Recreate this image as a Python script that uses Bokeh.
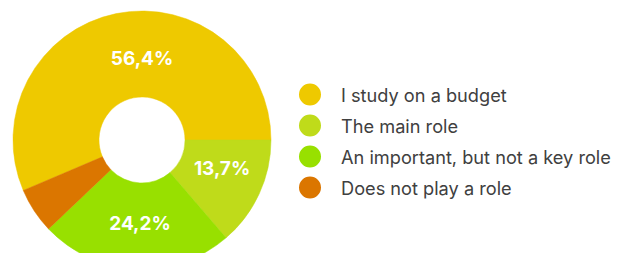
import numpy as np
from bokeh.plotting import figure
from bokeh.models import Range1d, ColumnDataSource
from bokeh.core.properties import value
from bokeh.embed import file_html
from bokeh.resources import INLINE

# ---- data ----
categories = ["I study on a budget", "The main role",
              "An important, but not a key role", "Does not play a role"]
shares = [56.4, 13.7, 24.2, 5.7]
labels = ["56,4%", "13,7%", "24,2%", ""]
colors = ["#EEC900", "#BFDB1A", "#98E000", "#DB7600"]

# label placement style (angular nudge in degrees, radius)
label_nudge_deg = [-11.5, 5.0, 1.5, 0.0]
label_radius = [82, 85, 84, 85]

W, H = 621, 253
p = figure(width=W, height=H, output_backend="svg", toolbar_location=None,
           x_axis_type=None, y_axis_type=None, min_border=0,
           x_range=Range1d(0, W), y_range=Range1d(0, H))
p.outline_line_color = None
p.grid.visible = False
p.background_fill_color = "white"

cx, cy = 141.5, H - 139.5
r_out, r_in = 129, 43

vals = np.array(shares, dtype=float)
frac = vals / vals.sum()
ang = frac * 2 * np.pi
offset = ang[0]  # first slice ends at 3 o'clock, slices run clockwise
cum = np.concatenate([[0], np.cumsum(ang)])
starts = offset - cum[:-1]
ends = offset - cum[1:]

src = ColumnDataSource(dict(start=starts, end=ends, color=colors))
p.annular_wedge(x=cx, y=cy, inner_radius=r_in, outer_radius=r_out,
                start_angle="start", end_angle="end", direction="clock",
                fill_color="color", line_color="color", line_width=0.5, source=src)

mid = (starts + ends) / 2 + np.radians(label_nudge_deg)
lr = np.array(label_radius, dtype=float)
lx = cx + lr * np.cos(mid)
ly = cy + lr * np.sin(mid)
p.text(x=lx, y=ly, text=labels, text_align="center", text_baseline="middle",
       text_color="white", text_font=value("Inter"), text_font_size="19px",
       text_font_style="bold")

# ---- legend ----
leg_x, leg_top, leg_step = 309.5, H - 94, 31
ys = [leg_top - i * leg_step for i in range(len(categories))]
p.scatter(x=[leg_x] * len(categories), y=ys, size=22, marker="circle",
          fill_color=colors, line_color=None)
p.text(x=[leg_x + 31] * len(categories), y=ys, text=categories,
       text_align="left", text_baseline="middle", text_color="#404040",
       text_font=value("Inter"), text_font_size="18.2px")

open("out.html", "w").write(file_html(p, INLINE))
